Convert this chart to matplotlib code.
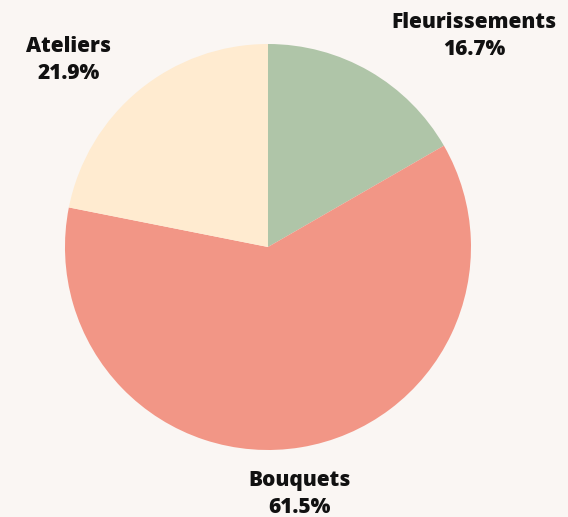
import matplotlib
matplotlib.use("Agg")
import matplotlib.pyplot as plt

categories = ["Fleurissements", "Bouquets", "Ateliers"]
shares = [16.7, 61.5, 21.9]
colors = ["#afc5a8", "#f29686", "#ffebd0"]

bg = "#faf6f3"

fig = plt.figure(figsize=(5.68, 5.17), dpi=100, facecolor=bg)
ax = fig.add_axes([0.1144, 0.1296, 0.7148, 0.7853])
ax.set_facecolor(bg)

ax.pie(
    shares,
    colors=colors,
    startangle=90,
    counterclock=False,
    wedgeprops={"linewidth": 0},
)
ax.set_aspect("auto")
ax.set_xlim(-1, 1)
ax.set_ylim(-1, 1)

label_pos = [(0.835, 0.931), (0.527, 0.044), (0.121, 0.884)]

for name, val, (x, y) in zip(categories, shares, label_pos):
    fig.text(
        x, y,
        f"{name}\n{val:.1f}%",
        ha="center",
        va="center",
        fontsize=15,
        fontweight="heavy",
        family="Open Sans",
        linespacing=1.36,
        color="#111111",
    )

fig.savefig("out.png", facecolor=bg)
